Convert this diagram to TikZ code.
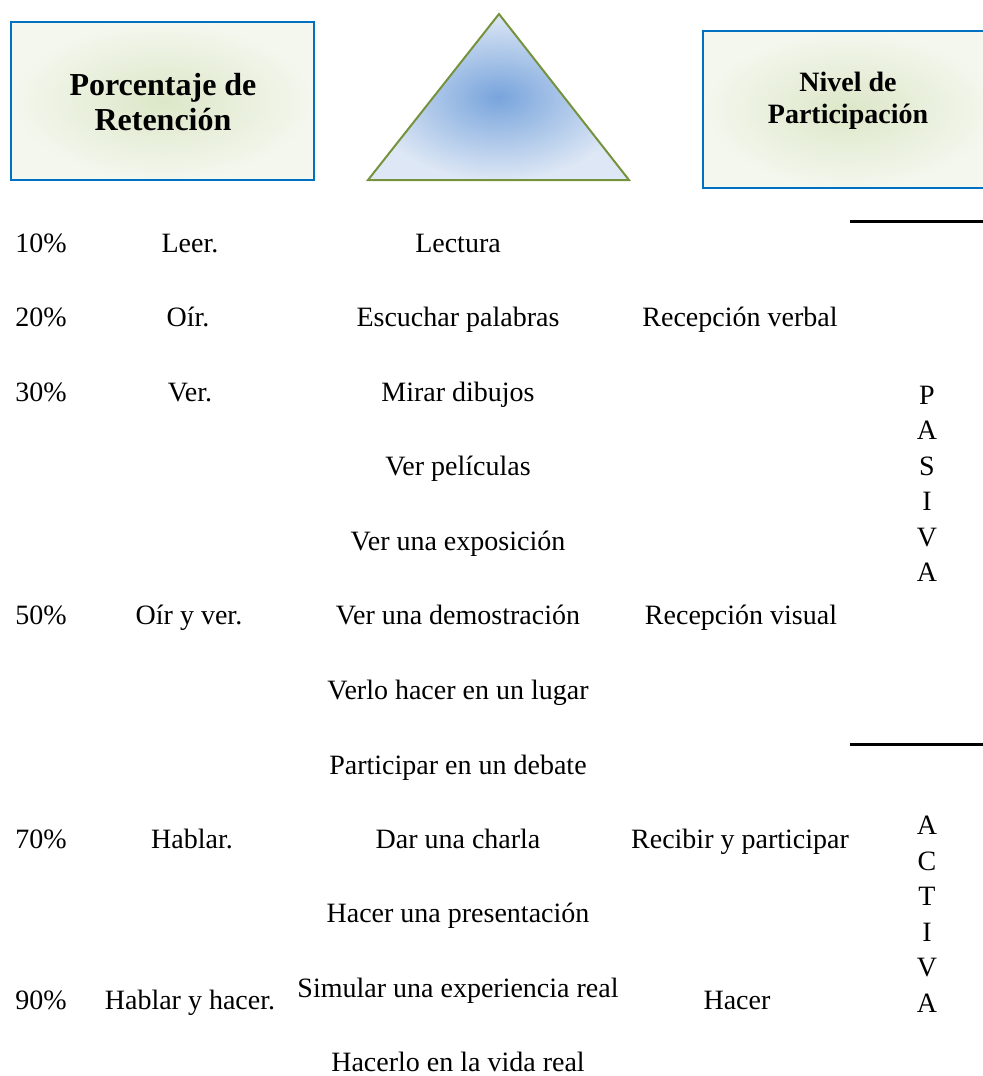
\documentclass[tikz,border=0pt]{standalone}
\usepackage{fontspec}
\setmainfont{Liberation Serif}
\usetikzlibrary{positioning}
\definecolor{hblue}{HTML}{0070C0}
\definecolor{hpale}{HTML}{F4F7EE}
\definecolor{hgreen}{HTML}{DCE7C8}
\definecolor{tolive}{HTML}{76923C}
\definecolor{tblue}{HTML}{78A4DC}
\definecolor{tpale}{HTML}{DDE7F5}
\tikzset{
  hdrbox/.style={draw=hblue, line width=1pt, inner color=hgreen, outer color=hpale},
  hdrtext/.style={align=center, inner sep=0pt, font=\bfseries},
  tri/.style={draw=tolive, line width=1pt, line join=miter, inner color=tblue, outer color=tpale},
  cell/.style={anchor=base, inner sep=0pt, font=\fontsize{14}{16}\selectfont},
  pct/.style={cell, anchor=base west},
  vword/.style={align=center, inner sep=0pt, font=\fontsize{14}{17.75}\selectfont},
  sep/.style={line width=1.5pt, black},
}

\begin{document}
\begin{tikzpicture}[x=0.5pt, y=-0.5pt]
    \useasboundingbox (0,0) rectangle (983,1076);

    % header boxes and pyramid
    \path[hdrbox] (11,22) rectangle (314,180);
    \node[hdrtext, font=\fontsize{16}{17.5}\selectfont\bfseries] (porc) at (163,102) {Porcentaje de\\Retención};
    \path[hdrbox] (703,31) rectangle (995,188);
    \node[hdrtext, font=\fontsize{14}{16}\selectfont\bfseries] (nivel) at (848,101) {Nivel de\\Participación};
    \coordinate (apex) at (499,14);
    \coordinate (bl) at (368,180);
    \coordinate (br) at (629,180);
    \draw[tri] (apex) -- (bl) -- (br) -- cycle;

    % retention percentages
    \node[pct] (p10) at (15,252) {10\%};
    \node[pct] (p20) at (15,326) {20\%};
    \node[pct] (p30) at (15,401) {30\%};
    \node[pct] (p50) at (15,624) {50\%};
    \node[pct] (p70) at (15,848) {70\%};
    \node[pct] (p90) at (15,1009) {90\%};

    % actions
    \node[cell] (a10) at (190,252) {Leer.};
    \node[cell] (a20) at (188,326) {Oír.};
    \node[cell] (a30) at (190,401) {Ver.};
    \node[cell] (a50) at (189,624) {Oír y ver.};
    \node[cell] (a70) at (192,848) {Hablar.};
    \node[cell] (a90) at (190,1009) {Hablar y hacer.};

    % experiences
    \node[cell] (e1) at (458,252) {Lectura};
    \node[cell] (e2) at (458,326) {Escuchar palabras};
    \node[cell] (e3) at (458,401) {Mirar dibujos};
    \node[cell] (e4) at (458,475) {Ver películas};
    \node[cell] (e5) at (458,550) {Ver una exposición};
    \node[cell] (e6) at (458,624) {Ver una demostración};
    \node[cell] (e7) at (458,699) {Verlo hacer en un lugar};
    \node[cell] (e8) at (458,774) {Participar en un debate};
    \node[cell] (e9) at (458,848) {Dar una charla};
    \node[cell] (e10) at (458,922) {Hacer una presentación};
    \node[cell] (e11) at (458,997) {Simular una experiencia real};
    \node[cell] (e12) at (458,1071) {Hacerlo en la vida real};

    % reception levels
    \node[cell] (r1) at (740,326) {Recepción verbal};
    \node[cell] (r2) at (741,624) {Recepción visual};
    \node[cell] (r3) at (740,848) {Recibir y participar};
    \node[cell] (r4) at (737,1009) {Hacer};

    % passive / active
    \node[vword] (pasiva) at (927,484) {P\\A\\S\\I\\V\\A};
    \node[vword] (activa) at (927,914) {A\\C\\T\\I\\V\\A};
    \coordinate (s1a) at (850,221);
    \coordinate (s1b) at (995,221);
    \coordinate (s2a) at (850,744);
    \coordinate (s2b) at (995,744);
    \draw[sep] (s1a) -- (s1b);
    \draw[sep] (s2a) -- (s2b);
\end{tikzpicture}
\end{document}
